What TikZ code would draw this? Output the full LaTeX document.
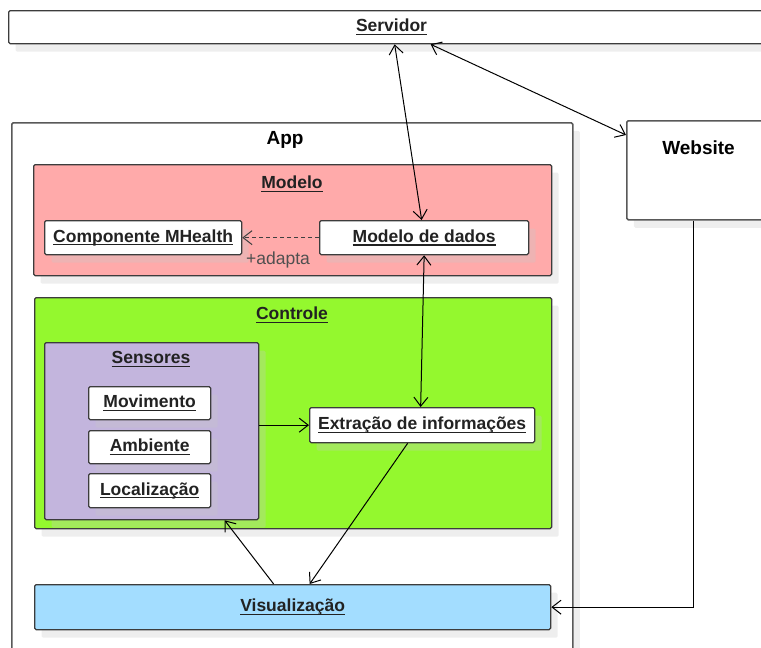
\documentclass[tikz,border=0pt]{standalone}
\usepackage{fontspec}
\setmainfont{Liberation Sans}
\usetikzlibrary{arrows.meta,shadows,calc}
\definecolor{modelofill}{HTML}{FFAAAA}
\definecolor{controlefill}{HTML}{94F82E}
\definecolor{sensfill}{HTML}{C3B5DD}
\definecolor{visfill}{HTML}{A3DDFF}
\definecolor{edgec}{HTML}{3C3C3C}
\definecolor{shadowc}{HTML}{C8C8C8}
\definecolor{txtc}{HTML}{222222}
\definecolor{notec}{HTML}{505050}
\newsavebox\ulbox
\newcommand\ulname[1]{\sbox\ulbox{#1}\rlap{\rule[-3.2pt]{\wd\ulbox}{1.1pt}}\usebox\ulbox}

\begin{document}
\begin{tikzpicture}[x=1pt,y=-1pt,
  box/.style={draw=edgec, line width=1.3pt, rounded corners=1.5pt, inner sep=0pt,
    anchor=north west,
    drop shadow={shadow xshift=7pt, shadow yshift=-8pt, fill=shadowc, opacity=0.3}},
  lbl/.style={font=\fontsize{17.5}{21}\selectfont\bfseries, text=txtc},
  boldlbl/.style={font=\fontsize{19}{22}\selectfont\bfseries, text=black},
  notelbl/.style={font=\fontsize{17.5}{21}\selectfont, text=notec},
  conn/.style={draw=black, line width=1pt},
  >={Straight Barb[length=9pt,width=14pt,line width=1pt]}
]
\useasboundingbox (0,0) rectangle (761,648);
\clip (0,0) rectangle (761,648);

% Servidor
\node[box, fill=white, minimum width=767pt, minimum height=33pt] (serv) at (8,10) {};
\node[lbl] (servl) at (391.5,27) {\ulname{Servidor}};

% Website
\node[box, fill=white, draw=black!65, line width=1.5pt, minimum width=145pt, minimum height=99pt] (web) at (626,120) {};
\node[boldlbl] (webl) at (698.5,148) {Website};

% App
\node[box, fill=white, draw=black!65, line width=1.5pt, minimum width=561pt, minimum height=560pt] (app) at (11,122) {};
\node[boldlbl] (appl) at (285,140) {App};

% Modelo
\node[box, fill=modelofill, minimum width=518pt, minimum height=111pt] (modelo) at (33,164) {};
\node[lbl] (modelol) at (292,184) {\ulname{Modelo}};
\node[box, fill=white, minimum width=197pt, minimum height=34pt] (comp) at (44,220) {};
\node[lbl] at (comp.center) {\ulname{Componente MHealth}};
\node[box, fill=white, minimum width=209pt, minimum height=34pt] (dados) at (319,220) {};
\node[lbl] at (dados.center) {\ulname{Modelo de dados}};

% Controle
\node[box, fill=controlefill, minimum width=517pt, minimum height=231pt] (controle) at (34,297) {};
\node[lbl] (controlel) at (292,315) {\ulname{Controle}};
\node[box, fill=sensfill, minimum width=214pt, minimum height=177pt] (sens) at (44,342) {};
\node[lbl] (sensl) at (151,359) {\ulname{Sensores}};
\node[box, fill=white, minimum width=122pt, minimum height=33pt] (mov) at (88,386) {};
\node[lbl] at (mov.center) {\ulname{Movimento}};
\node[box, fill=white, minimum width=122pt, minimum height=33pt] (amb) at (88,430) {};
\node[lbl] at (amb.center) {\ulname{Ambiente}};
\node[box, fill=white, minimum width=122pt, minimum height=34pt] (loc) at (88,473) {};
\node[lbl] at (loc.center) {\ulname{Localização}};
\node[box, fill=white, minimum width=225pt, minimum height=35pt] (ext) at (309,407) {};
\node[lbl] at (ext.center) {\ulname{Extração de informações}};

% Visualizacao
\node[box, fill=visfill, minimum width=516pt, minimum height=45pt] (vis) at (34,584) {};
\node[lbl] at (vis.center) {\ulname{Visualização}};

% connectors
\draw[conn,<->] ($(serv.south)+(2.5,0)$) -- ($(dados.north)+(-2.5,0)$);
\draw[conn,<->] ($(serv.south)+(38.5,0)$) -- ($(web.north west)+(0,15)$);
\draw[conn,<->] (dados.south) -- ($(ext.north)+(-1.5,0)$);
\draw[conn,->] (sens.east |- ext.west) -- (ext.west);
\draw[conn,->] ($(ext.south)+(-14.5,0)$) -- ($(vis.north)+(17,0)$);
\draw[conn,->] ($(vis.north)+(-19,0)$) -- ($(sens.south)+(73,0)$);
\draw[conn,->] ($(web.south)+(-5.5,0)$) |- (vis.east);
\draw[conn,->,draw=black!75,dash pattern=on 4pt off 3pt] (dados.west) -- (comp.east);
\node[notelbl] (adapta) at (278,260) {+adapta};
\end{tikzpicture}
\end{document}
